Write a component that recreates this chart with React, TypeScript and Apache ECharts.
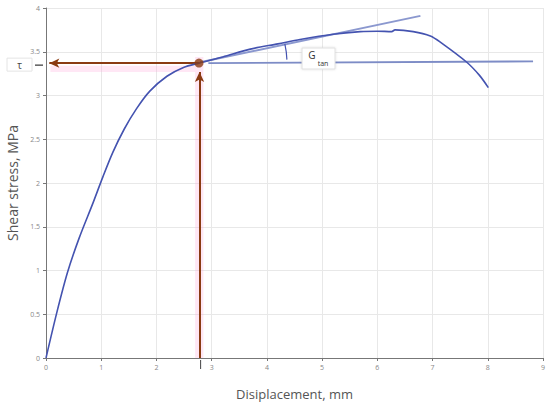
import React, { useEffect, useRef } from "react";
import * as echarts from "echarts";

const curveX = [0, 0.2, 0.39, 0.6, 0.85, 1.03, 1.21, 1.42, 1.64, 1.88, 2.19, 2.49, 2.77, 3.2, 3.7, 4.2, 4.6, 5.2, 5.69, 6.0, 6.26, 6.32, 6.65, 6.96, 7.14, 7.62, 7.85, 8.01];
const curveY = [0, 0.53, 0.98, 1.37, 1.77, 2.07, 2.35, 2.62, 2.85, 3.05, 3.22, 3.32, 3.37, 3.44, 3.53, 3.59, 3.64, 3.7, 3.73, 3.735, 3.73, 3.75, 3.73, 3.68, 3.61, 3.38, 3.23, 3.09];
const tangentLine = [[2.79, 3.38], [6.78, 3.91]];
const horizontalLine = [[2.94, 3.37], [8.82, 3.39]];
const keyPoint = [2.77, 3.37];
const xTicks = [0, 9, 1];
const yTicks = [0, 4, 0.5];

export default function App() {
  const ref = useRef<HTMLDivElement>(null);
  useEffect(() => {
    if (!ref.current) return;
    const chart = echarts.init(ref.current, null, { renderer: "svg" });
    const font = "'Open Sans', 'Noto Sans', sans-serif";
    const arrowColor = "#8a3b12";
    const option: any = {
      animation: false,
      grid: { left: 46, right: 7, top: 8, bottom: 48, containLabel: false, outerBoundsMode: "none" },
      xAxis: {
        type: "value",
        min: xTicks[0],
        max: xTicks[1],
        interval: xTicks[2],
        name: "Disiplacement, mm",
        nameLocation: "middle",
        nameGap: 29,
        nameTextStyle: { fontSize: 13, color: "#555", fontFamily: font },
        axisLine: { show: true, lineStyle: { color: "#777", width: 1 } },
        axisTick: { show: true, length: 3, lineStyle: { color: "#777" } },
        axisLabel: { fontSize: 7, color: "#888", fontFamily: font, margin: 6 },
        splitLine: { show: true, lineStyle: { color: "#e8e8e8" } },
      },
      yAxis: {
        type: "value",
        min: yTicks[0],
        max: yTicks[1],
        interval: yTicks[2],
        name: "Shear stress, MPa",
        nameLocation: "middle",
        nameGap: 22,
        nameTextStyle: { fontSize: 14, color: "#555", fontFamily: font },
        axisLine: { show: true, lineStyle: { color: "#777", width: 1 } },
        axisTick: { show: true, length: 3, lineStyle: { color: "#777" } },
        axisLabel: { fontSize: 7, color: "#888", fontFamily: font, margin: 6 },
        splitLine: { show: true, lineStyle: { color: "#e8e8e8" } },
      },
      series: [
        {
          type: "line",
          data: curveX.map((x, i) => [x, curveY[i]]),
          smooth: 0.3,
          showSymbol: false,
          lineStyle: { color: "#4453b0", width: 1.6 },
          z: 5,
          markArea: {
            silent: true,
            itemStyle: { color: "rgba(255,170,220,0.28)" },
            data: [
              [{ coord: [2.7, 0] }, { coord: [2.85, 3.44] }],
              [{ coord: [0.08, 3.27] }, { coord: [2.7, 3.34] }],
            ],
          },
        },
        {
          type: "line",
          data: tangentLine,
          showSymbol: false,
          lineStyle: { color: "#8b98cf", width: 2 },
          z: 4,
        },
        {
          type: "line",
          data: horizontalLine,
          showSymbol: false,
          lineStyle: { color: "#7d8cc6", width: 1.8 },
          z: 4,
        },
        {
          type: "scatter",
          data: [keyPoint],
          symbolSize: 9,
          itemStyle: { color: arrowColor },
          z: 8,
          markLine: {
            silent: true,
            symbol: ["none", "arrow"],
            symbolSize: [7, 10],
            label: { show: false },
            lineStyle: { color: arrowColor, width: 2, type: "solid" },
            data: [
              [{ coord: [keyPoint[0], keyPoint[1]] }, { coord: [0.06, keyPoint[1]] }],
              [{ coord: [keyPoint[0] + 0.01, 0] }, { coord: [keyPoint[0] + 0.01, 3.27] }],
            ],
          },
        },
      ],
    };
    chart.setOption(option);
    const ty = chart.convertToPixel({ gridIndex: 0 }, [0, keyPoint[1]])[1];
    const tickPx = chart.convertToPixel({ gridIndex: 0 }, [keyPoint[0] + 0.03, 0]);
    const dot = chart.convertToPixel({ gridIndex: 0 }, keyPoint);
    chart.setOption({
      graphic: [
        {
          type: "rect",
          shape: { x: 7, y: ty - 5, width: 25, height: 13 },
          style: { fill: "#fff", stroke: "#e4e4e4", lineWidth: 1 },
          z: 100,
        },
        {
          type: "text",
          x: 19.5,
          y: ty + 1.5,
          style: { text: "τ", fontSize: 10, fill: "#444", fontFamily: font, align: "center", verticalAlign: "middle" },
          z: 101,
        },
        {
          type: "line",
          shape: { x1: 35, y1: ty + 2, x2: 43, y2: ty + 2 },
          style: { stroke: "#333", lineWidth: 1.2 },
          z: 100,
        },
        {
          type: "line",
          shape: { x1: tickPx[0], y1: tickPx[1] + 2, x2: tickPx[0], y2: tickPx[1] + 11 },
          style: { stroke: "#444", lineWidth: 1 },
          z: 100,
        },
        {
          type: "arc",
          shape: { cx: dot[0], cy: dot[1], r: 88, startAngle: -0.22, endAngle: -0.04 },
          style: { stroke: "#4453b0", lineWidth: 1.2, fill: "none" },
          z: 100,
        },
        {
          type: "rect",
          shape: { x: 302, y: 48, width: 33, height: 21 },
          style: { fill: "#fff", stroke: "#e0e0e0", lineWidth: 1, shadowBlur: 2, shadowColor: "rgba(0,0,0,0.15)" },
          z: 100,
        },
        {
          type: "text",
          x: 312,
          y: 55,
          style: { text: "G", fontSize: 10, fill: "#333", fontFamily: font, align: "center", verticalAlign: "middle" },
          z: 101,
        },
        {
          type: "text",
          x: 323,
          y: 63,
          style: { text: "tan", fontSize: 7, fill: "#333", fontFamily: font, align: "center", verticalAlign: "middle" },
          z: 101,
        },
      ],
    });
    return () => chart.dispose();
  }, []);
  return <div ref={ref} style={{ width: 550, height: 406, position: "absolute", left: 0, top: 0 }} />;
}
